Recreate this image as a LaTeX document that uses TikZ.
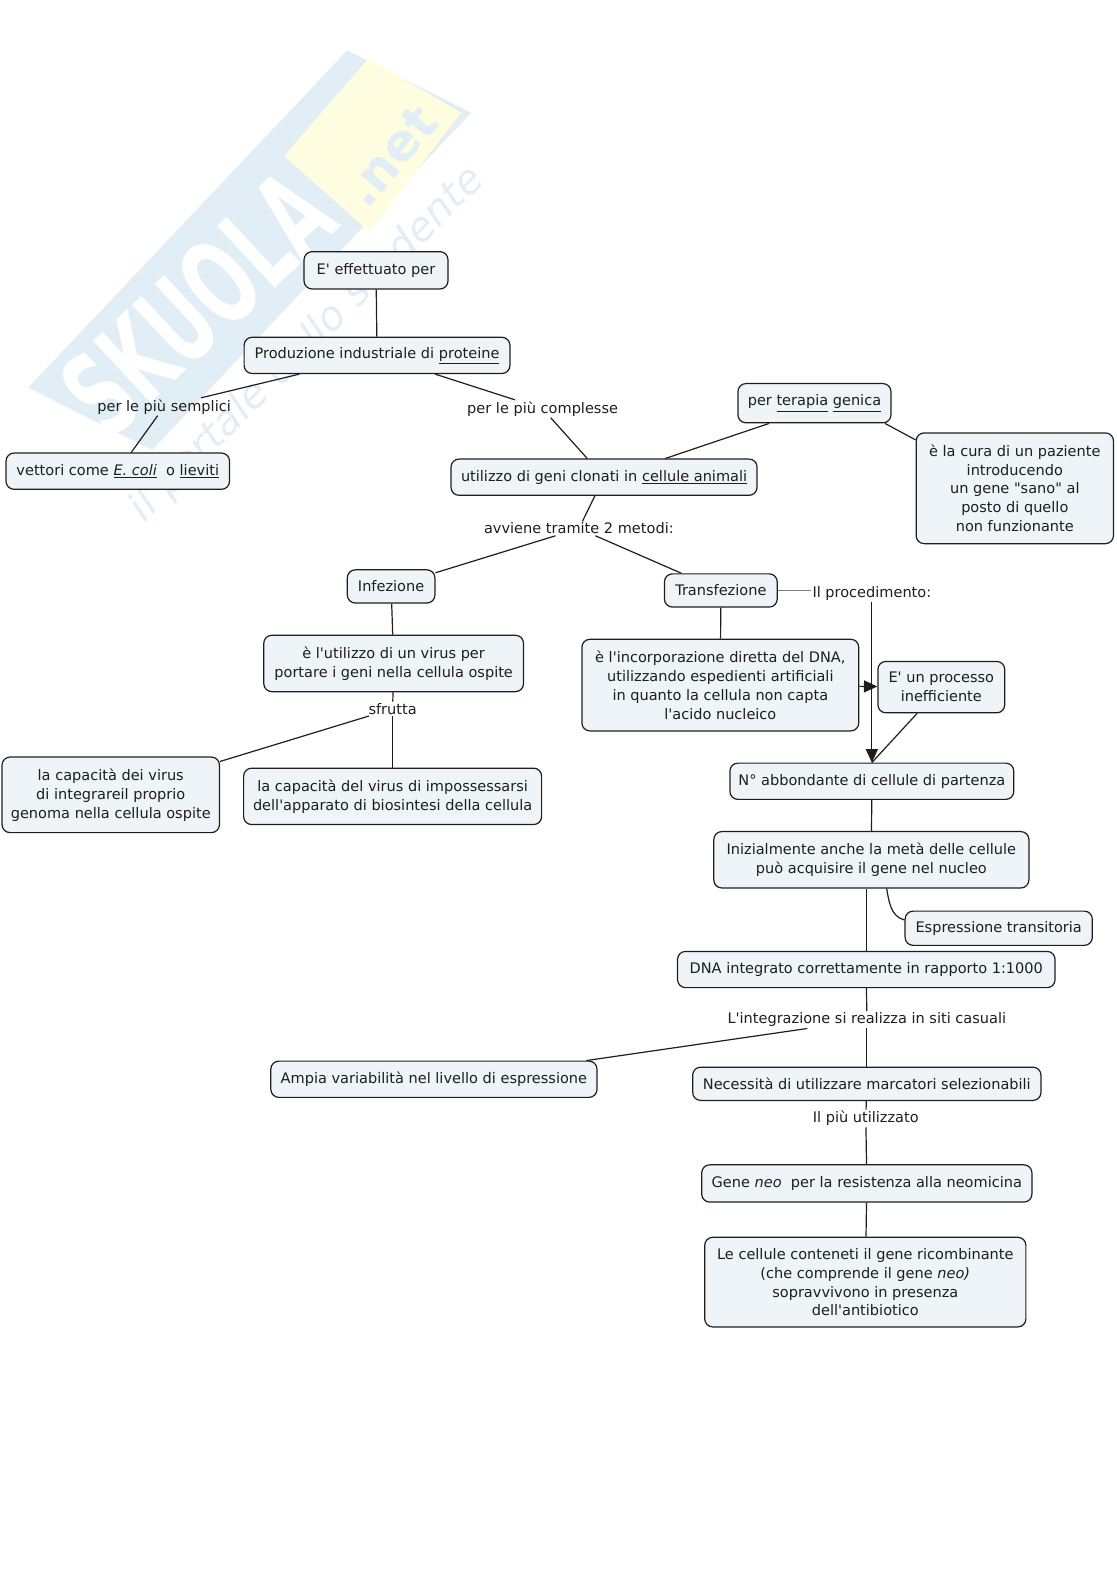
\documentclass[tikz,border=0pt]{standalone}
\usepackage{fontspec}
\setmainfont{DejaVu Sans}[Ligatures=TeXOff]
\usetikzlibrary{arrows.meta}

\definecolor{boxfill}{HTML}{EEF4F8}
\definecolor{inkdark}{HTML}{1E1E1E}
\definecolor{markblue}{HTML}{E2EEF6}
\definecolor{markyellow}{HTML}{FFFDE0}

\tikzset{
  concept/.style={draw=inkdark,fill=boxfill,line width=0.9pt,rounded corners=6pt,
    align=center,inner sep=0pt,text=inkdark},
  boxsize/.style 2 args={minimum width=#1*0.755pt,minimum height=#2*0.755pt},
  linklabel/.style={inner sep=1pt,align=center,text=inkdark},
  link/.style={draw=inkdark,line width=0.9pt},
  arrowlink/.style={link,-{Triangle[length=10pt,width=9pt]}}
}

\begin{document}
\begin{tikzpicture}[x=0.755pt,y=-0.755pt,font=\fontsize{10.9}{14.2}\selectfont]
\useasboundingbox (0,0) rectangle (1108.6,1568.4);

% Watermark
\fill[markblue] (28,385) -- (345,50) -- (468,112) -- (151,447) -- cycle;
\fill[markyellow] (282,155) -- (366,58) -- (458,112) -- (367,230) -- cycle;
\node[rotate=43,text=white,font=\fontsize{60}{60}\bfseries\selectfont,xscale=0.87,yscale=1.45]
  (markname) at (196,301) {SKUOLA};
\node[rotate=50,text=markblue,font=\fontsize{38}{38}\bfseries\selectfont] (marknet) at (388,155) {.net};
\node[rotate=45,text=markblue,font=\fontsize{30.4}{30.4}\itshape\selectfont] (markline) at (305,342)
  {il portale dello studente};

% Boxes
\node[concept,boxsize={143}{37}] (effettuato) at (373.5,268.5) {E' effettuato per};
\node[concept,boxsize={264}{36}] (produzione) at (374.5,353) {Produzione industriale di \underline{proteine}};
\node[concept,boxsize={222}{36}] (vettori) at (117,468) {vettori come \underline{\textit{E. coli}}\ \ o \underline{lieviti}};
\node[concept,boxsize={304}{36}] (clonati) at (600,474) {utilizzo di geni clonati in \underline{cellule animali}};
\node[concept,boxsize={152}{39}] (terapia) at (809,400.5) {per \underline{terapia} \underline{genica}};
\node[concept,boxsize={196}{110}] (cura) at (1008,485) {è la cura di un paziente\\introducendo\\un gene "sano" al\\posto di quello\\non funzionante};
\node[concept,boxsize={87}{33}] (infezione) at (388.5,582.5) {Infezione};
\node[concept,boxsize={112}{33}] (transfezione) at (716,586.5) {Transfezione};
\node[concept,boxsize={258}{56}] (utilizzovirus) at (391,659) {è l'utilizzo di un virus per\\portare i geni nella cellula ospite};
\node[concept,boxsize={275}{91}] (incorporazione) at (715.5,680.5) {è l'incorporazione diretta del DNA,\\utilizzando espedienti artificiali\\in quanto la cellula non capta\\l'acido nucleico};
\node[concept,boxsize={126}{51}] (processo) at (935,682.5) {E' un processo\\inefficiente};
\node[concept,boxsize={216}{75}] (capacita) at (110,789.5) {la capacità dei virus\\di integrareil proprio\\genoma nella cellula ospite};
\node[concept,boxsize={296}{56}] (biosintesi) at (390,791) {la capacità del virus di impossessarsi\\dell'apparato di biosintesi della cellula};
\node[concept,boxsize={282}{36}] (abbondante) at (866,776) {N° abbondante di cellule di partenza};
\node[concept,boxsize={313}{56}] (meta) at (865.5,854) {Inizialmente anche la metà delle cellule\\può acquisire il gene nel nucleo};
\node[concept,boxsize={186}{34}] (transitoria) at (992,922) {Espressione transitoria};
\node[concept,boxsize={375}{36}] (integrato) at (860.5,963) {DNA integrato correttamente in rapporto 1:1000};
\node[concept,boxsize={324}{36}] (variabilita) at (431,1072) {Ampia variabilità nel livello di espressione};
\node[concept,boxsize={346}{33}] (marcatori) at (861,1076.5) {Necessità di utilizzare marcatori selezionabili};
\node[concept,boxsize={328}{37}] (neo) at (861,1175.5) {Gene \textit{neo}\ \ per la resistenza alla neomicina};
\node[concept,boxsize={319}{89}] (sopravvivono) at (859.5,1273.5) {Le cellule conteneti il gene ricombinante\\(che comprende il gene \textit{neo)}\\sopravvivono in presenza\\dell'antibiotico};

% Link labels
\node[linklabel] (semplici) at (163,404) {per le più semplici};
\node[linklabel] (complesse) at (539,406) {per le più complesse};
\node[linklabel] (metodi) at (575,525) {avviene tramite 2 metodi:};
\node[linklabel] (procedimento) at (866,589) {Il procedimento:};
\node[linklabel] (sfrutta) at (390,704) {sfrutta};
\node[linklabel] (casuali) at (861,1013) {L'integrazione si realizza in siti casuali};
\node[linklabel] (utilizzato) at (860,1111) {Il più utilizzato};

% Links
\draw[link] (effettuato) -- (produzione);
\draw[link] (produzione) -- (semplici);
\draw[link] (semplici) -- (vettori);
\draw[link] (produzione) -- (complesse);
\draw[link] (complesse) -- (clonati);
\draw[link] (clonati.17) -- (terapia.-156);
\draw[link] (terapia.-16) -- (cura.154);
\draw[link] (clonati) -- (metodi);
\draw[link] (metodi) -- (infezione);
\draw[link] (metodi) -- (transfezione);
\draw[link] (infezione) -- (utilizzovirus);
\draw[link] (utilizzovirus) -- (sfrutta);
\draw[link] (sfrutta) -- (capacita);
\draw[link] (sfrutta) -- (biosintesi);
\draw[link] (transfezione) -- (incorporazione);
\draw[link,draw=gray,line width=0.5pt] (transfezione.east) -- (transfezione.east -| procedimento.west);
\draw[arrowlink] (procedimento) -- (abbondante);
\draw[arrowlink] (incorporazione) -- (processo);
\draw[link] (processo) -- (abbondante.north);
\draw[link] (abbondante) -- (meta);
\draw[link] (integrato.north) -- (integrato.north |- meta.south);
\draw[link] (meta.-62) to[out=-80,in=165] (transitoria.175);
\draw[link] (integrato) -- (casuali);
\draw[link] (casuali) -- (marcatori);
\draw[link] (casuali) -- (variabilita.7.5);
\draw[link] (marcatori) -- (utilizzato);
\draw[link] (utilizzato) -- (neo);
\draw[link] (neo) -- (sopravvivono);
\end{tikzpicture}
\end{document}
